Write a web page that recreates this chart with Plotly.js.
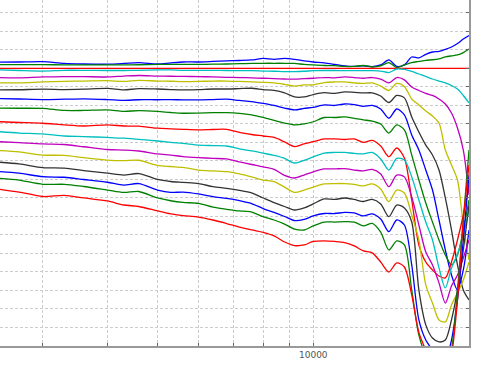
<!DOCTYPE html>
<html><head><meta charset="utf-8">
<script src="https://cdn.plot.ly/plotly-3.0.1.min.js"></script>
<style>html,body{margin:0;padding:0;background:#fff;}#chart{width:488px;height:366px;}</style>
</head><body><div id="chart"></div>
<script>
const freqs = [2480,2700,3000,3300,3600,4000,4300,4600,5000,5300,5600,6000,6400,6800,7200,7600,8000,8400,8800,9200,9600,10000,10500,11000,11500,12000,12500,13000,13500,14000,14500,15000,15500,16000,16500,17000,17500,18000,18500,19000,19500,20000];

const L0 = [0.34,0.35,0.37,0.27,0.24,0.23,0.27,0.32,0.24,0.30,0.35,0.35,0.38,0.41,0.43,0.46,0.54,0.49,0.54,0.49,0.41,0.35,0.30,0.22,0.14,0.11,0.14,0.10,0.19,0.46,0.11,0.19,0.62,0.57,0.76,0.89,0.92,1.03,1.16,1.35,1.59,1.78];
const L1 = [0.21,0.21,0.21,0.19,0.19,0.19,0.19,0.20,0.22,0.22,0.22,0.22,0.23,0.24,0.26,0.27,0.28,0.28,0.28,0.27,0.22,0.19,0.16,0.15,0.11,0.11,0.16,0.08,0.14,0.32,0.05,0.19,0.32,0.38,0.44,0.47,0.52,0.62,0.68,0.73,0.86,1.05];
const L2 = [0,0,0,0,0,0,0,0,0,0,0,0,0,0,0,0,0,0,0,0,0,0,0,0,0,0,0,0,0,0,0,0,0,0,0,0,0,0,0,0,0,0];
const L3 = [-0.08,-0.11,-0.14,-0.10,-0.10,-0.11,-0.11,-0.10,-0.08,-0.08,-0.10,-0.10,-0.10,-0.11,-0.12,-0.12,-0.14,-0.15,-0.17,-0.17,-0.15,-0.12,-0.11,-0.11,-0.12,-0.12,-0.12,-0.12,-0.14,-0.22,-0.03,-0.05,-0.16,-0.30,-0.43,-0.57,-0.68,-0.78,-0.92,-1.11,-1.46,-1.86];
const L4 = [-0.50,-0.51,-0.46,-0.44,-0.44,-0.46,-0.41,-0.38,-0.41,-0.42,-0.43,-0.44,-0.46,-0.48,-0.49,-0.51,-0.53,-0.55,-0.57,-0.58,-0.55,-0.53,-0.49,-0.51,-0.46,-0.49,-0.53,-0.49,-0.57,-0.78,-0.49,-0.62,-1.00,-1.19,-1.35,-1.46,-1.65,-1.92,-2.41,-3.22,-4.41,-6.84];
const L5 = [-0.78,-0.78,-0.73,-0.70,-0.68,-0.66,-0.70,-0.64,-0.68,-0.69,-0.71,-0.70,-0.68,-0.68,-0.70,-0.73,-0.75,-0.78,-0.86,-0.95,-0.89,-0.89,-0.76,-0.73,-0.73,-0.78,-0.81,-0.78,-0.95,-1.19,-0.81,-0.97,-1.65,-1.97,-2.30,-2.57,-2.95,-4.41,-5.22,-6.03,-8.46,-10.35];
const L6 = [-1.16,-1.15,-1.12,-1.14,-1.12,-1.08,-1.16,-1.09,-1.11,-1.14,-1.16,-1.14,-1.11,-1.11,-1.09,-1.07,-1.14,-1.19,-1.32,-1.54,-1.54,-1.41,-1.31,-1.35,-1.27,-1.29,-1.32,-1.32,-1.49,-1.84,-1.46,-1.59,-2.62,-3.43,-4.14,-4.68,-5.49,-7.00,-8.73,-10.62,-11.97,-12.51];
const L7 = [-1.63,-1.65,-1.68,-1.66,-1.64,-1.68,-1.72,-1.69,-1.69,-1.68,-1.70,-1.70,-1.68,-1.66,-1.73,-1.79,-1.89,-2.00,-2.14,-2.24,-2.16,-2.10,-1.97,-2.00,-1.92,-1.95,-2.05,-2.00,-2.19,-2.69,-2.19,-2.51,-3.59,-4.41,-5.49,-6.57,-8.19,-9.81,-11.16,-11.97,-10.89,-8.73];
const L8 = [-2.14,-2.15,-2.16,-2.27,-2.27,-2.24,-2.32,-2.28,-2.32,-2.38,-2.42,-2.41,-2.39,-2.39,-2.43,-2.51,-2.65,-2.81,-2.95,-3.05,-3.00,-2.88,-2.65,-2.65,-2.62,-2.70,-2.78,-2.84,-3.00,-3.49,-3.05,-3.32,-4.68,-6.03,-7.27,-8.30,-9.27,-10.08,-10.62,-10.08,-8.73,-7.11];
const L9 = [-2.88,-2.92,-2.96,-3.05,-3.11,-3.05,-3.11,-3.12,-3.23,-3.26,-3.29,-3.32,-3.30,-3.29,-3.46,-3.57,-3.65,-3.73,-3.97,-4.22,-4.08,-3.96,-3.81,-3.81,-3.84,-3.81,-4.00,-3.89,-4.19,-4.77,-4.30,-4.84,-7.11,-9.54,-10.46,-10.89,-11.22,-11.32,-10.46,-9.27,-7.92,-6.30];
const L10 = [-3.42,-3.49,-3.54,-3.65,-3.68,-3.73,-3.77,-3.83,-3.92,-4.00,-4.05,-4.14,-4.17,-4.19,-4.35,-4.46,-4.58,-4.70,-4.86,-5.11,-4.97,-4.78,-4.57,-4.54,-4.54,-4.59,-4.62,-4.54,-4.89,-5.49,-4.86,-4.95,-5.86,-7.11,-8.30,-9.27,-10.78,-11.86,-10.78,-10.03,-9.00,-7.65];
const L11 = [-3.96,-4.01,-4.08,-4.11,-4.23,-4.38,-4.41,-4.46,-4.62,-4.68,-4.76,-4.82,-4.86,-4.89,-5.05,-5.19,-5.32,-5.46,-5.78,-5.92,-5.76,-5.59,-5.43,-5.43,-5.41,-5.49,-5.54,-5.46,-5.70,-6.39,-5.76,-5.86,-6.95,-8.46,-9.92,-10.62,-11.59,-12.68,-11.76,-11.16,-10.24,-9.27];
const L12 = [-4.44,-4.51,-4.68,-4.70,-4.82,-4.95,-4.98,-4.96,-5.24,-5.30,-5.35,-5.49,-5.54,-5.58,-5.70,-5.86,-6.03,-6.11,-6.41,-6.70,-6.57,-6.41,-6.24,-6.22,-6.22,-6.27,-6.35,-6.24,-6.51,-7.20,-6.57,-6.73,-7.92,-9.27,-11.70,-12.68,-13.59,-13.70,-12.78,-12.14,-11.43,-10.46];
const L13 = [-5.07,-5.16,-5.36,-5.39,-5.52,-5.66,-5.76,-5.68,-6.00,-6.11,-6.16,-6.22,-6.39,-6.48,-6.59,-6.73,-7.00,-7.25,-7.46,-7.65,-7.54,-7.32,-7.05,-7.08,-7.00,-7.08,-7.19,-7.08,-7.32,-8.01,-7.38,-7.54,-8.30,-11.97,-13.86,-14.57,-14.78,-14.68,-13.59,-11.97,-9.81,-7.38];
const L14 = [-5.58,-5.66,-5.85,-5.88,-6.00,-6.15,-6.30,-6.22,-6.57,-6.70,-6.68,-6.78,-6.93,-7.02,-7.14,-7.30,-7.57,-7.78,-8.00,-8.22,-8.16,-7.97,-7.84,-7.84,-7.78,-7.81,-7.97,-7.86,-8.14,-8.82,-8.19,-8.46,-10.62,-13.59,-14.68,-15.22,-15.76,-15.76,-14.68,-12.51,-9.27,-5.76];
const L15 = [-5.94,-6.03,-6.26,-6.26,-6.38,-6.57,-6.70,-6.65,-7.00,-7.15,-7.24,-7.29,-7.50,-7.61,-7.70,-7.76,-8.01,-8.19,-8.41,-8.68,-8.73,-8.51,-8.30,-8.30,-8.28,-8.30,-8.51,-8.37,-8.84,-9.81,-9.32,-9.54,-11.97,-14.41,-15.49,-16.03,-16.30,-16.30,-15.22,-11.97,-8.19,-4.41];
const L16 = [-6.53,-6.68,-6.92,-6.86,-7.00,-7.16,-7.38,-7.46,-7.70,-7.86,-7.95,-8.03,-8.19,-8.38,-8.57,-8.73,-8.86,-9.05,-9.38,-9.57,-9.54,-9.35,-9.32,-9.35,-9.41,-9.59,-9.86,-9.97,-10.46,-11.00,-10.51,-10.73,-12.24,-14.27,-15.22,-16.03,-16.57,-16.57,-15.49,-12.51,-8.19,-5.22];

const seriesColors = ['#0000ff','#008000','#ff0000','#00bfbf','#bf00bf','#bfbf00','#333333'];
const xGridTicks = [3000,4000,5000,6000,7000,8000,9000,10000,20000];
const xTickText = ['','','','','','','','10000',''];

const series = [L0,L1,L2,L3,L4,L5,L6,L7,L8,L9,L10,L11,L12,L13,L14,L15,L16];
const traces = series.map((yv, i) => ({
  x: freqs, y: yv, type: 'scatter', mode: 'lines',
  line: {color: seriesColors[i % 7], width: 1.3, shape: 'spline', smoothing: 0.8},
  hoverinfo: 'skip', showlegend: false
}));

const layout = {
  width: 488, height: 366,
  margin: {l: 0, r: 19, t: 0, b: 20, pad: 0},
  paper_bgcolor: '#ffffff', plot_bgcolor: '#ffffff',
  showlegend: false,
  xaxis: {
    type: 'log', range: [Math.log10(2480), Math.log10(20000)],
    tickmode: 'array', tickvals: xGridTicks, ticktext: xTickText,
    showgrid: true, gridcolor: '#cccccc', griddash: '3px,2px', gridwidth: 1,
    showline: true, linecolor: '#999999', linewidth: 1.5,
    ticks: 'inside', ticklen: 3, tickcolor: '#666666',
    tickfont: {family: 'DejaVu Sans', size: 9, color: '#555555'},
    zeroline: false
  },
  yaxis: {
    range: [-15, 3.7], tick0: 0, dtick: 1,
    showgrid: true, gridcolor: '#cccccc', griddash: '3px,2px', gridwidth: 1,
    showline: true, side: 'right', linecolor: '#999999', linewidth: 1.5,
    ticks: 'inside', ticklen: 3, tickcolor: '#666666',
    showticklabels: false, zeroline: false
  }
};
Plotly.newPlot('chart', traces, layout, {staticPlot: true, displayModeBar: false});
</script></body></html>
